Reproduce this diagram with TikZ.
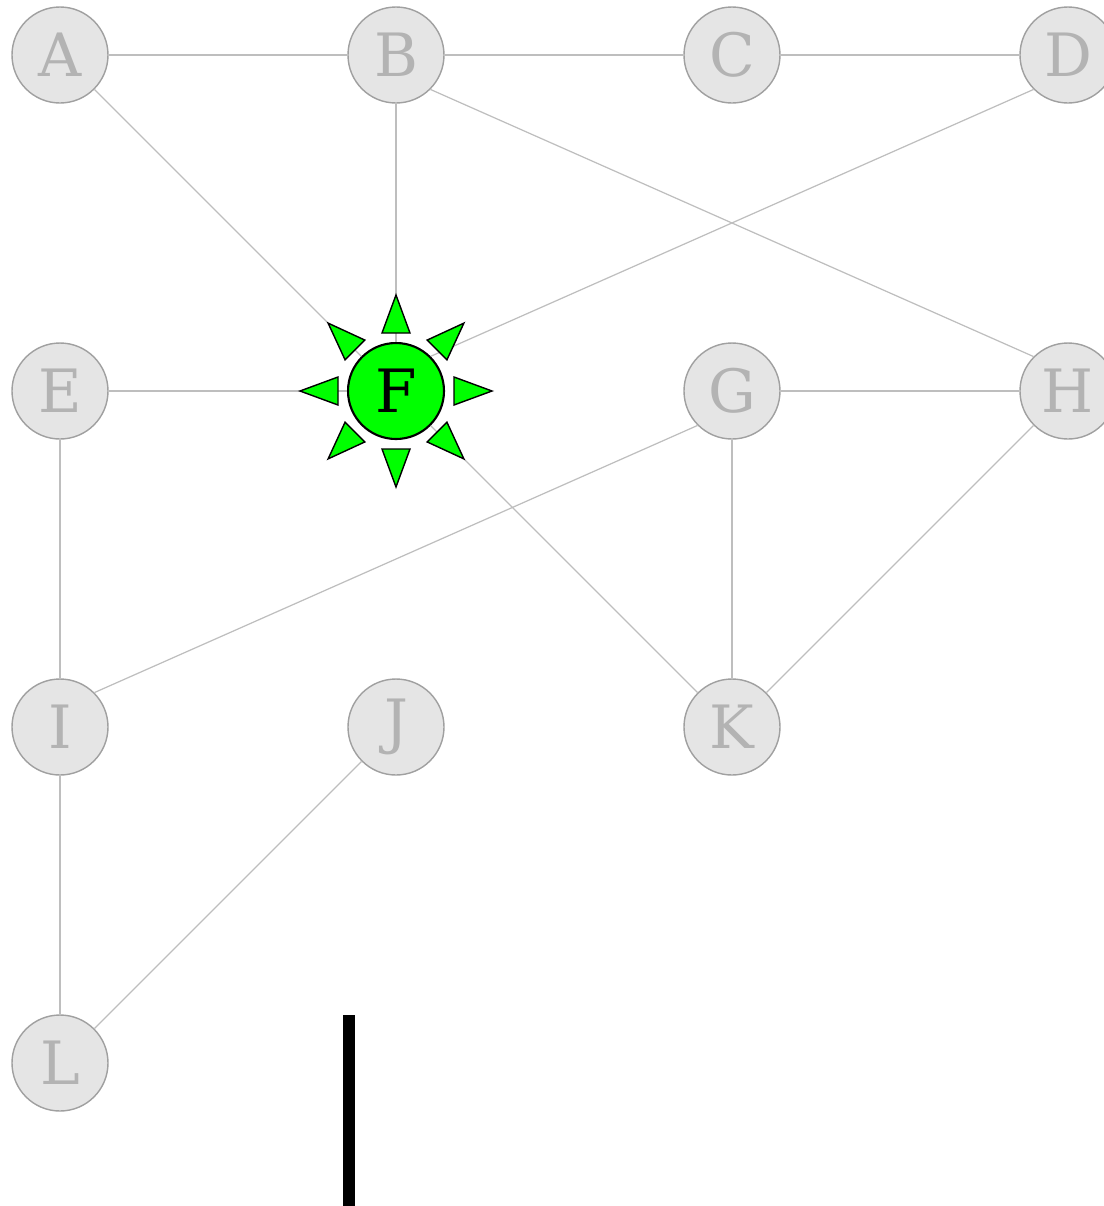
\documentclass[tikz,border=0pt]{standalone}
\usepackage{fontspec}
\setmainfont{DejaVu Serif}
\usepackage{xcolor}
\usepackage{tikz}
\usetikzlibrary{calc}
\definecolor{vfill}{HTML}{E5E5E5}
\definecolor{vline}{HTML}{A0A0A0}
\definecolor{vtext}{HTML}{B3B3B3}
\definecolor{eline}{HTML}{BEBEBE}
\definecolor{hot}{HTML}{00FF00}

\begin{document}
\begin{tikzpicture}[
      vert/.style={circle, draw=vline, fill=vfill, text=vtext, line width=0.4pt,
                   minimum size=0.96cm, inner sep=0pt, font=\fontsize{17}{20}\selectfont},
      active/.style={vert, draw=black, fill=hot, text=black, line width=0.6pt},
      edge/.style={draw=eline, line width=0.35pt},
      ray/.style={draw=black, fill=hot, line width=0.4pt, line join=miter}
  ]
    \useasboundingbox (0,0) rectangle (11.04,-12.06);
    \node[vert] (A) at (0.60,-0.55) {A};
    \node[vert] (B) at (3.96,-0.55) {B};
    \node[vert] (C) at (7.32,-0.55) {C};
    \node[vert] (D) at (10.68,-0.55) {D};
    \node[vert] (E) at (0.60,-3.91) {E};
    \node[active] (F) at (3.96,-3.91) {F};
    \node[vert] (G) at (7.32,-3.91) {G};
    \node[vert] (H) at (10.68,-3.91) {H};
    \node[vert] (I) at (0.60,-7.27) {I};
    \node[vert] (J) at (3.96,-7.27) {J};
    \node[vert] (K) at (7.32,-7.27) {K};
    \node[vert] (L) at (0.60,-10.63) {L};
    \foreach \u/\v in {A/B, B/C, C/D, A/F, B/F, E/F, F/K,
                       G/H, G/K, H/K, E/I, I/L, J/L}
      \draw[edge] (\u) -- (\v);
    % long slanted ones leave from the 45 degree points
    \draw[edge] (B.south east) -- (H.north west);
    \draw[edge] (D.south west) -- (F.north east);
    \draw[edge] (G.south west) -- (I.north east);
    \foreach \a in {0,45,...,315}
      \draw[ray] ($(F)+(\a:0.58)+(\a+90:0.14)$) -- ($(F)+(\a:0.96)$)
                 -- ($(F)+(\a:0.58)+(\a-90:0.14)$) -- cycle;
    \fill[black] (3.43,-10.15) rectangle (3.545,-12.06);
  \end{tikzpicture}
\end{document}
